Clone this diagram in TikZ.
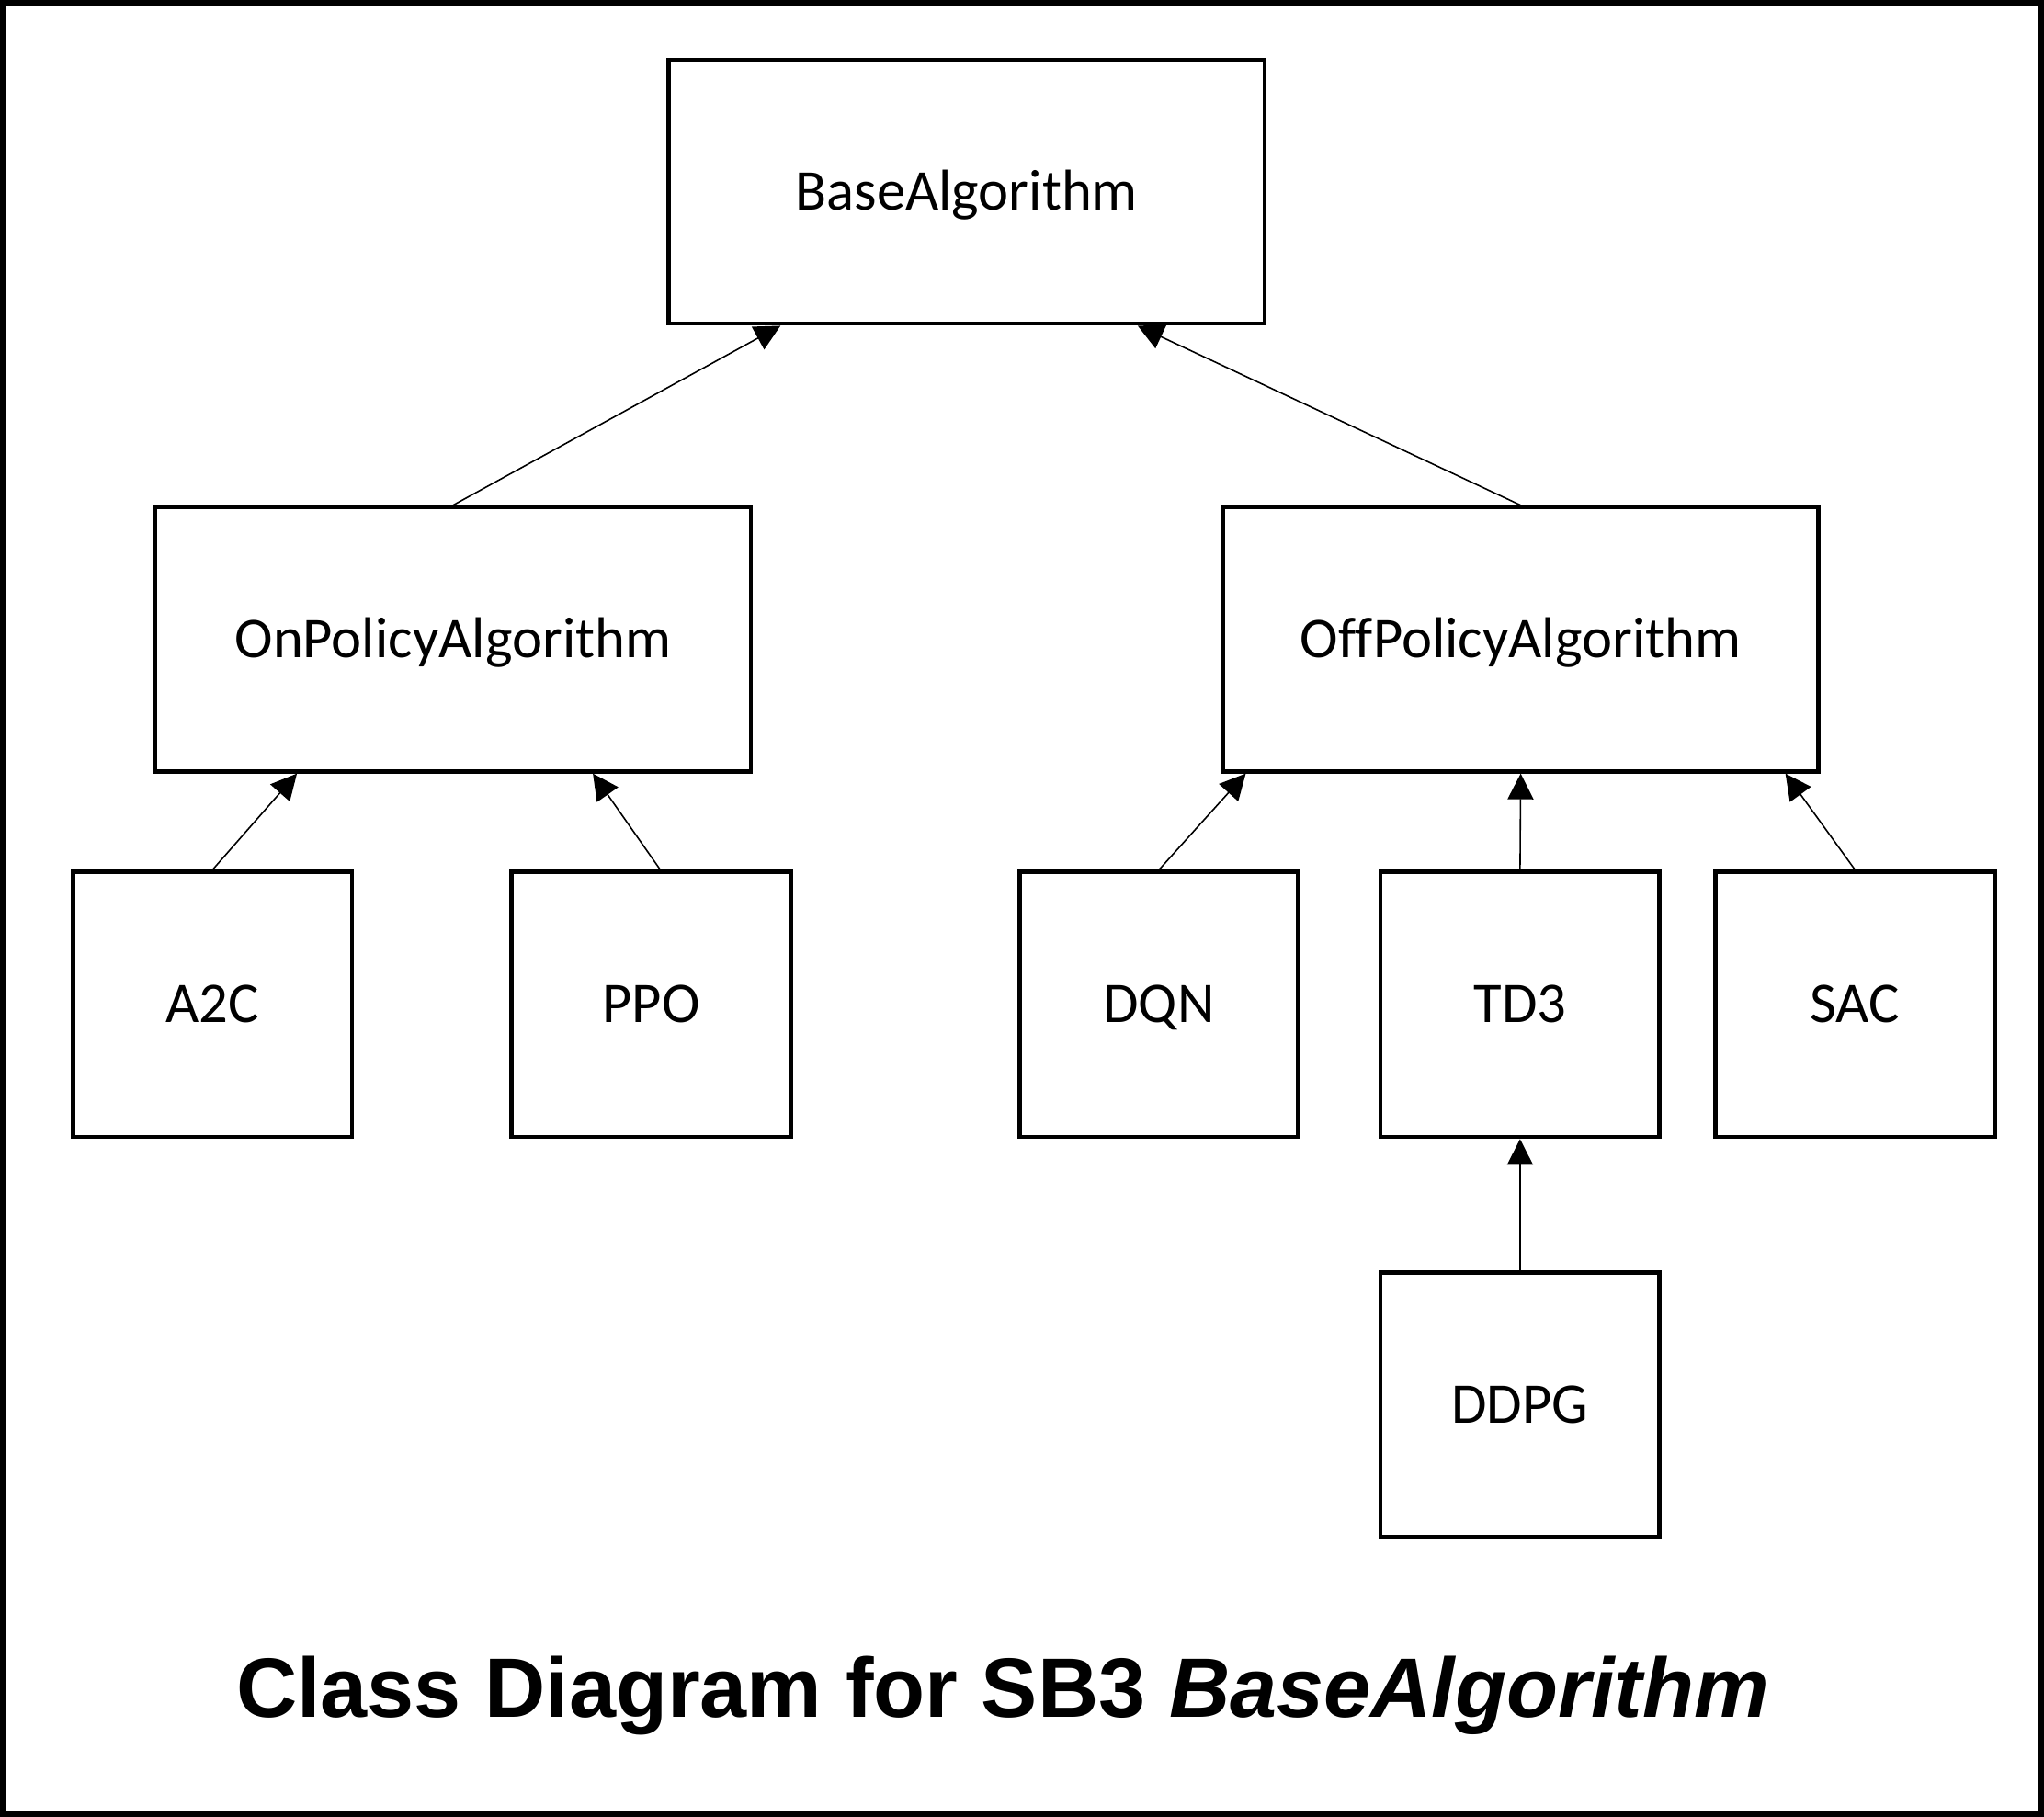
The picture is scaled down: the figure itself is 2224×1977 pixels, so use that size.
\documentclass[tikz,border=0pt]{standalone}
\usepackage{fontspec}
\setmainfont{Carlito}[Ligatures={NoCommon}]
\newfontfamily\titlefont{Liberation Sans}
\usetikzlibrary{arrows.meta,calc}
\begin{document}
\begin{tikzpicture}[x=0.01cm,y=-0.01cm,
  cls/.style={draw,line width=1.35pt,inner sep=0pt,text height=11.4pt,text depth=0pt,font=\fontsize{17.8pt}{21pt}\selectfont},
  bigbox/.style={cls,minimum width=6.48cm,minimum height=2.87cm},
  smallbox/.style={cls,minimum width=3.035cm,minimum height=2.88cm},
  arr/.style={line width=0.45pt,-{Triangle[length=0.28cm,width=0.28cm]}}]
\useasboundingbox (0,0) rectangle (2224,1977);
\draw[line width=1.8pt] (3.2,3.2) rectangle (2220.8,1973.8);
\node[bigbox] (base) at (1051.7,208.5) {BaseAlgorithm};
\node[bigbox] (onp) at (492.9,695.7) {OnPolicyAlgorithm};
\node[bigbox] (offp) at (1654.6,695.7) {OffPolicyAlgorithm};
\node[smallbox] (a2c) at (231.2,1092.9) {A2C};
\node[smallbox] (ppo) at (708.5,1092.9) {PPO};
\node[smallbox] (dqn) at (1261,1092.9) {DQN};
\node[smallbox] (td3) at (1653.9,1092.9) {TD3};
\node[smallbox] (sac) at (2018.4,1092.9) {SAC};
\node[smallbox] (ddpg) at (1653.9,1528.3) {DDPG};
\node[anchor=base,inner sep=0pt,font=\titlefont\bfseries\fontsize{26.1pt}{30pt}\selectfont] (title) at (1091,1868) {Class Diagram for SB3 \textit{BaseAlgorithm}};
\draw[arr] (onp.north) -- ($(base.south west)!0.19!(base.south east)$);
\draw[arr] (offp.north) -- ($(base.south west)!0.785!(base.south east)$);
\draw[arr] (a2c.north) -- ($(onp.south west)!0.24!(onp.south east)$);
\draw[arr] ($(ppo.north)+(10,0)$) -- ($(onp.south west)!0.733!(onp.south east)$);
\draw[arr] (dqn.north) -- ($(offp.south west)!0.042!(offp.south east)$);
\draw[arr] (td3.north) -- (offp.south);
\draw[arr] (sac.north) -- ($(offp.south west)!0.941!(offp.south east)$);
\draw[arr] (ddpg.north) -- (td3.south);
\end{tikzpicture}
\end{document}
